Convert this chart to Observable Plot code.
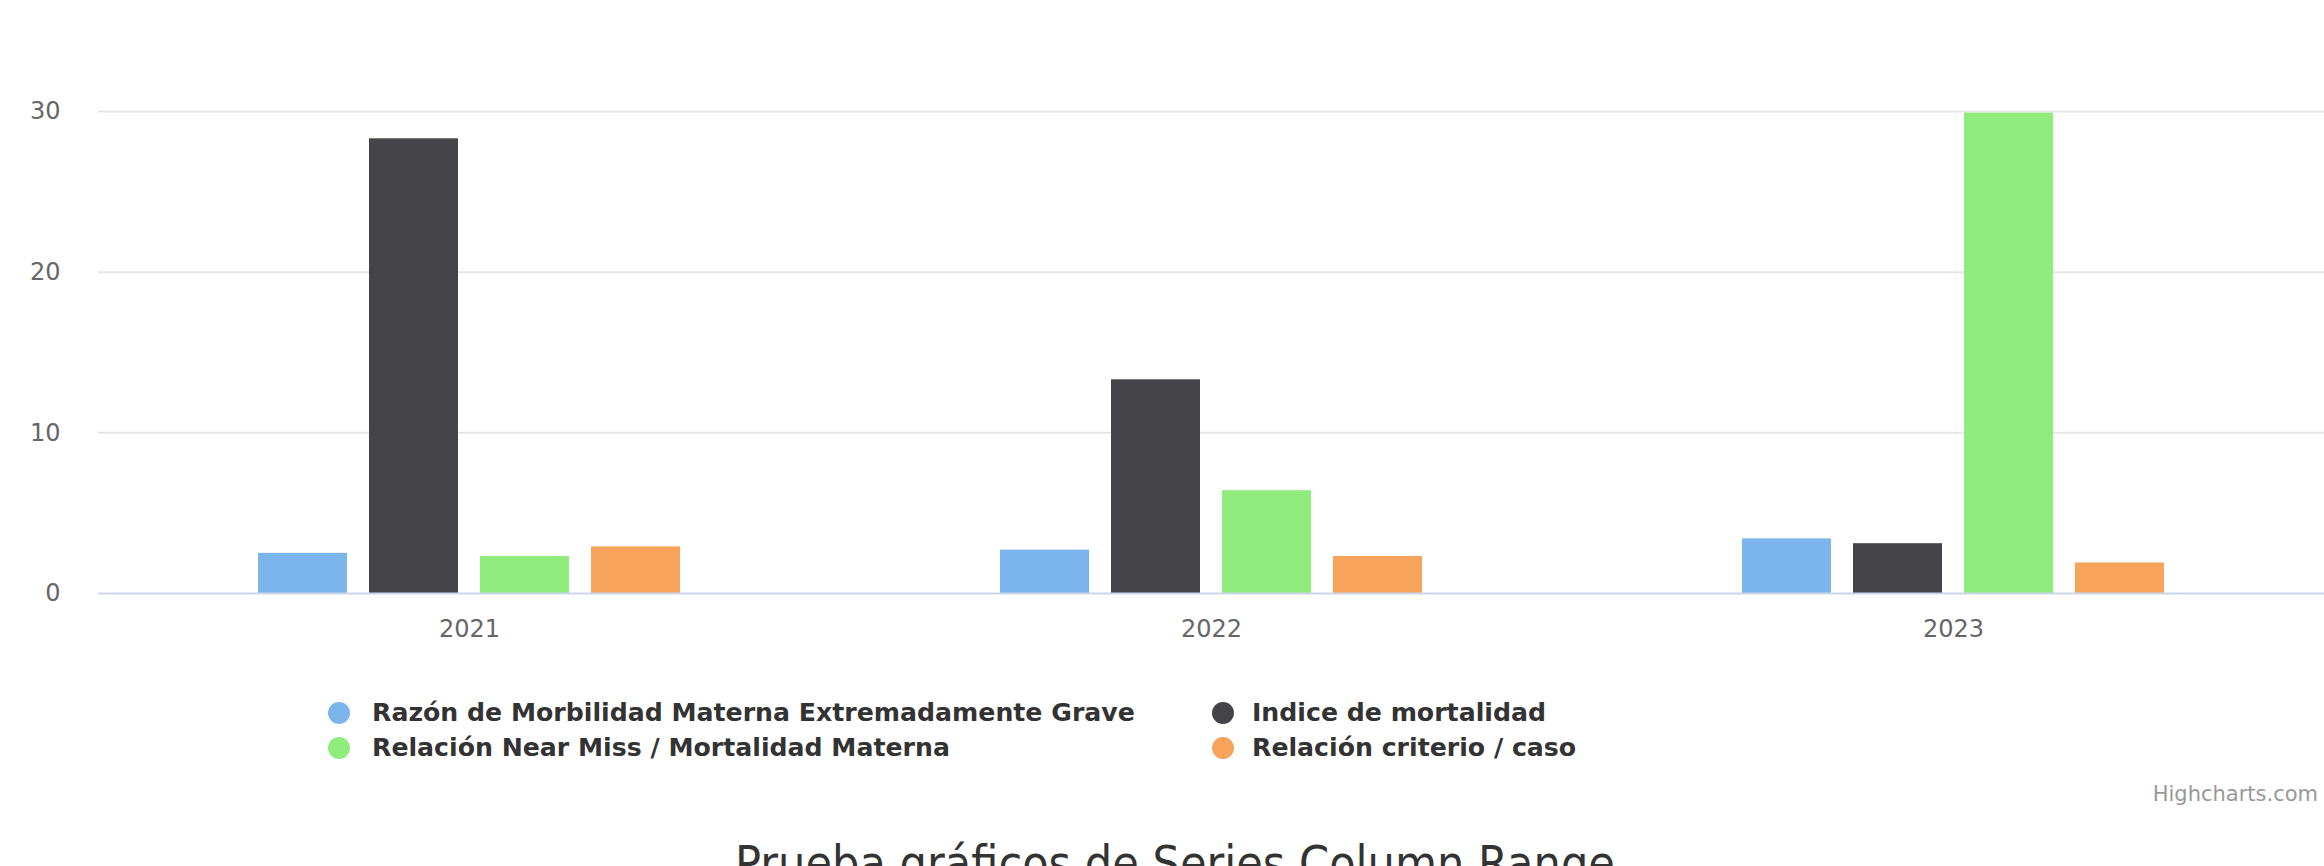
<!DOCTYPE html>
<html>
<head>
<meta charset="utf-8">
<script src="https://cdn.jsdelivr.net/npm/d3@7"></script>
<script src="https://cdn.jsdelivr.net/npm/@observablehq/plot@0.6"></script>
<style>
  html, body { margin: 0; padding: 0; background: #ffffff; }
  #wrap { position: relative; width: 2324px; height: 866px; overflow: hidden; background: #ffffff; }
  #chart svg { display: block; }
  .legend { position: absolute; left: 328px; top: 695px; font-family: "DejaVu Sans", sans-serif; font-weight: bold; font-size: 25.2px; color: #333333; }
  .legend .row { display: flex; height: 35px; align-items: center; }
  .legend .item { display: flex; align-items: center; }
  .legend .item.c1 { width: 884px; }
  .legend .dot { width: 22px; height: 22px; border-radius: 50%; margin-right: 22px; flex: none; }
  .legend .item.c2 .dot { margin-right: 18px; }
  .credits { position: absolute; right: 6px; top: 782px; font-family: "DejaVu Sans", sans-serif; font-size: 21px; color: #999999; }
  .title { position: absolute; left: 13px; width: 2324px; top: 835px; text-align: center; font-family: "Liberation Sans Narrow", "DejaVu Sans Condensed", sans-serif; font-size: 48px; color: #333333; white-space: nowrap; }
</style>
</head>
<body>
<div id="wrap">
  <div id="chart"></div>
  <div class="legend" id="legend"></div>
  <div class="credits">Highcharts.com</div>
  <div class="title" id="title"></div>
</div>
<script>
const years = ["2021", "2022", "2023"];
const seriesNames = [
  "Razón de Morbilidad Materna Extremadamente Grave",
  "Indice de mortalidad",
  "Relación Near Miss / Mortalidad Materna",
  "Relación criterio / caso"
];
const razon = [2.5, 2.7, 3.4];
const indice = [28.3, 13.3, 3.1];
const nearMiss = [2.3, 6.4, 29.9];
const criterio = [2.9, 2.3, 1.9];
const seriesColors = ["#7cb5ec", "#434348", "#90ed7d", "#f7a35c"];
const yTicks = [0, 10, 20, 30];
const titleText = "Prueba gráficos de Series Column Range";

const seriesValues = [razon, indice, nearMiss, criterio];
const rows = [];
years.forEach((yr, i) => {
  seriesNames.forEach((s, j) => rows.push({year: yr, series: s, value: seriesValues[j][i]}));
});

const chart = Plot.plot({
  width: 2324,
  height: 660,
  marginTop: 111,
  marginBottom: 67,
  marginLeft: 97,
  marginRight: 0,
  style: {fontFamily: "DejaVu Sans, sans-serif", fontSize: "24px", color: "#666666", background: "#ffffff"},
  fx: {domain: years, padding: 0, label: null, tickSize: 0, tickPadding: 26, axis: "bottom"},
  x: {domain: seriesNames, paddingInner: 0.2, paddingOuter: 1.435, axis: null},
  y: {domain: [0, 30], ticks: yTicks, tickSize: 0, tickPadding: 38, label: null},
  color: {domain: seriesNames, range: seriesColors},
  marks: [
    Plot.ruleY(yTicks.filter(d => d !== 0), {stroke: "#e6e6e6", strokeWidth: 2}),
    Plot.barY(rows, {fx: "year", x: "series", y: "value", fill: "series"}),
    Plot.ruleY([0], {stroke: "#ccd6eb", strokeWidth: 2})
  ]
});
document.getElementById("chart").appendChild(chart);

const colorScale = chart.scale("color");
const legend = document.getElementById("legend");
const order = [[0, 1], [2, 3]];
order.forEach(pair => {
  const row = document.createElement("div");
  row.className = "row";
  pair.forEach((idx, k) => {
    const item = document.createElement("div");
    item.className = "item " + (k === 0 ? "c1" : "c2");
    const dot = document.createElement("span");
    dot.className = "dot";
    dot.style.background = colorScale.apply(seriesNames[idx]);
    const label = document.createElement("span");
    label.textContent = seriesNames[idx];
    item.appendChild(dot);
    item.appendChild(label);
    row.appendChild(item);
  });
  legend.appendChild(row);
});
document.getElementById("title").textContent = titleText;
</script>
</body>
</html>
